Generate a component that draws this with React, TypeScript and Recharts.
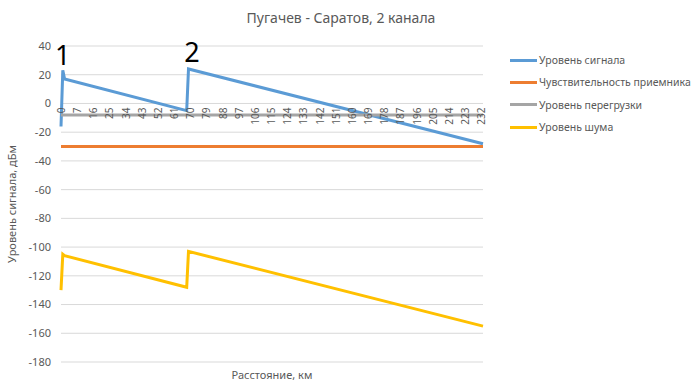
import {
  LineChart,
  Line,
  XAxis,
  YAxis,
  CartesianGrid,
  Legend,
  Label,
  ReferenceDot,
} from "recharts";

// точки излома (индекс категории на оси Excel)
const pointIdx = [0, 1, 2, 70, 71, 235];
const signalLevel = [-16, 23, 17, -5, 24, -28];
const sensitivityLevel = [-30, -30, -30, -30, -30, -30];
const overloadLevel = [-8, -8, -8, -8, -8, -8];
const noiseLevel = [-130, -105, -106, -128, -103, -155];

// подписи оси X (каждая 9-я категория)
const distanceLabels = [
  "0", "7", "16", "25", "34", "43", "52", "61", "70", "79", "88", "97", "106",
  "115", "124", "133", "142", "151", "160", "169", "178", "187", "196", "205",
  "214", "223", "232",
];
const labelIdx = distanceLabels.map((_, i) => i * 9);

const yTicks = [40, 20, 0, -20, -40, -60, -80, -100, -120, -140, -160, -180];

const seriesInfo = [
  { key: "signal", name: "Уровень сигнала", color: "#5B9BD5" },
  { key: "sens", name: "Чувствительность приемника", color: "#ED7D31" },
  { key: "over", name: "Уровень перегрузки", color: "#A5A5A5" },
  { key: "noise", name: "Уровень шума", color: "#FFC000" },
];

const data = pointIdx.map((idx, i) => ({
  idx,
  signal: signalLevel[i],
  sens: sensitivityLevel[i],
  over: overloadLevel[i],
  noise: noiseLevel[i],
}));

const W = 694;
const H = 387;
const TOP = 46;
const BOTTOM_H = 25;
const PLOT_H = H - TOP - BOTTOM_H;
const Y_MAX = 40;
const Y_MIN = -180;
// ось X пересекает ось Y в нуле
const ZERO_Y = TOP + (PLOT_H * Y_MAX) / (Y_MAX - Y_MIN);

const FONT = "'Noto Sans', 'Open Sans', sans-serif";
const GREY = "#595959";
const LEGEND_W = 184;

type TickProps = { x?: number; y?: number; payload?: { value: number } };

const DistanceTick = ({ x = 0, payload }: TickProps) => {
  const pos = labelIdx.indexOf(payload ? payload.value : -1);
  const ty = ZERO_Y + 4;
  return (
    <text
      x={x}
      y={ty}
      transform={`rotate(-90 ${x} ${ty})`}
      textAnchor="end"
      dominantBaseline="central"
      fontSize={10}
      fontFamily={FONT}
      fill={GREY}
    >
      {pos >= 0 ? distanceLabels[pos] : ""}
    </text>
  );
};

const LegendBox = () => (
  <div style={{ fontFamily: FONT, fontSize: 10.5, color: GREY }}>
    {seriesInfo.map((s) => (
      <div
        key={s.key}
        style={{ display: "flex", alignItems: "center", height: 22.3 }}
      >
        <span
          style={{
            display: "inline-block",
            width: 27,
            height: 3,
            background: s.color,
            marginRight: 2,
          }}
        />
        {s.name}
      </div>
    ))}
  </div>
);

export default function App() {
  return (
    <div
      style={{
        position: "absolute",
        left: 0,
        top: 0,
        width: W,
        height: H,
        background: "#fff",
      }}
    >
      <div
        style={{
          position: "absolute",
          top: 8,
          left: 0,
          width: 682,
          textAlign: "center",
          fontFamily: FONT,
          fontSize: 14,
          color: GREY,
        }}
      >
        Пугачев - Саратов, 2 канала
      </div>
      <LineChart
        width={W}
        height={H}
        data={data}
        margin={{ top: TOP, right: 211 - LEGEND_W, bottom: 0, left: 0 }}
      >
        <CartesianGrid stroke="#d9d9d9" vertical={false} />
        <XAxis
          dataKey="idx"
          type="number"
          domain={[0, 235]}
          ticks={labelIdx}
          tick={<DistanceTick />}
          axisLine={false}
          tickLine={false}
          height={BOTTOM_H}
          interval={0}
        >
          <Label
            value="Расстояние, км"
            position="insideBottom"
            offset={8}
            style={{ fontFamily: FONT, fontSize: 11, fill: GREY }}
          />
        </XAxis>
        <YAxis
          domain={[Y_MIN, Y_MAX]}
          ticks={yTicks}
          width={61}
          axisLine={false}
          tickLine={false}
          tickSize={8}
          tickMargin={2}
          tick={{ fontFamily: FONT, fontSize: 11, fill: GREY }}
        >
          <Label
            value="Уровень сигнала, дБм"
            angle={-90}
            position="insideLeft"
            offset={12}
            style={{
              fontFamily: FONT,
              fontSize: 11,
              fill: GREY,
              textAnchor: "middle",
            }}
          />
        </YAxis>
        <Legend
          layout="vertical"
          align="right"
          verticalAlign="top"
          content={<LegendBox />}
          wrapperStyle={{ left: 510, top: 49, width: LEGEND_W }}
        />
        {seriesInfo.map((s) => (
          <Line
            key={s.key}
            type="linear"
            dataKey={s.key}
            name={s.name}
            stroke={s.color}
            strokeWidth={3}
            dot={false}
            activeDot={false}
            isAnimationActive={false}
          />
        ))}
        <ReferenceDot
          x={1}
          y={23}
          r={0}
          stroke="none"
          label={{
            value: "1",
            position: "top",
            offset: 5,
            fontSize: 27,
            fontFamily: FONT,
            fill: "#000",
          }}
        />
        <ReferenceDot
          x={73}
          y={24}
          r={0}
          stroke="none"
          label={{
            value: "2",
            position: "top",
            offset: 7,
            fontSize: 27,
            fontFamily: FONT,
            fill: "#000",
          }}
        />
      </LineChart>
    </div>
  );
}
